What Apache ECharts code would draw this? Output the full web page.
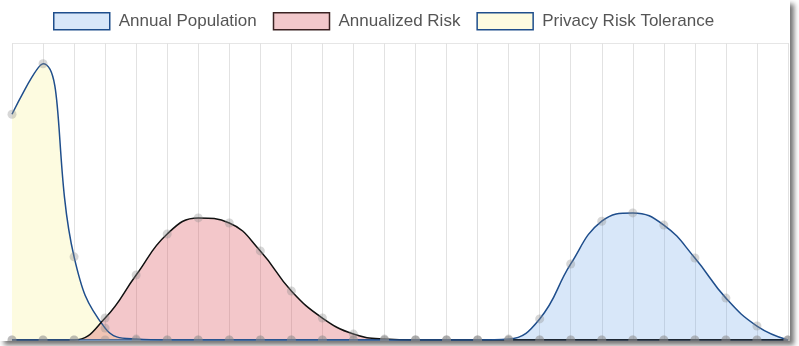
<!DOCTYPE html>
<html>
<head>
<meta charset="utf-8">
<script src="https://cdn.jsdelivr.net/npm/echarts@6/dist/echarts.min.js"></script>
<style>
  body { margin: 0; background: #fff; }
  #wrap { position: absolute; left: 0; top: 0; width: 790px; height: 341px; background: #fff; box-shadow: 4px 4px 5px rgba(0,0,0,0.55); }
  #chart { width: 790px; height: 341px; }
</style>
</head>
<body>
<div id="wrap"><div id="chart"></div></div>
<script>
  // x positions (no labels shown in the picture)
  var categories = ['0','1','2','3','4','5','6','7','8','9','10','11','12',
    '13','14','15','16','17','18','19','20','21','22','23','24','25']
  var seriesNames = ['Annual Population', 'Annualized Risk', 'Privacy Risk Tolerance']
  var annualPopulation = [0,0,0,0,0,0,0,0,0,0,0,0,0,0,0,0,0.003,0.071,0.256,0.40,0.428,0.387,0.276,0.141,0.047,0]
  var annualizedRisk = [0,0,0,0.074,0.219,0.357,0.411,0.394,0.30,0.165,0.074,0.02,0.003,0,0,0,0,0,0,0,0,0,0,0,0,0]
  var privacyRiskTolerance = [0.76,0.93,0.28,0.04,0.003,0,0,0,0,0,0,0,0,0,0,0,0,0,0,0,0,0,0,0,0,0]

  var navy = '#1f4e8c'
  var pointStyle = { color: 'rgba(140,140,140,0.35)', borderWidth: 0 }

  var myChart = echarts.init(document.getElementById('chart'))
  myChart.setOption({
    animation: false,
    legend: {
      top: 7,
      left: 48,
      icon: 'rect',
      itemWidth: 56,
      itemHeight: 17,
      itemGap: 16,
      textStyle: {
        color: '#555',
        fontSize: 17,
        fontFamily: 'Liberation Sans, Arial, sans-serif',
        padding: [0, 0, 0, 4]
      },
      data: [
        { name: seriesNames[0], itemStyle: { color: '#d8e7f9', borderColor: navy, borderWidth: 1.5 } },
        { name: seriesNames[1], itemStyle: { color: '#f2c8cb', borderColor: '#3a2222', borderWidth: 1.5 } },
        { name: seriesNames[2], itemStyle: { color: '#fdfbe0', borderColor: navy, borderWidth: 1.5 } }
      ]
    },
    grid: {
      top: 43,
      bottom: 1,
      left: 12,
      right: 2
    },
    xAxis: {
      type: 'category',
      boundaryGap: false,
      data: categories,
      axisLine: { show: false },
      axisTick: { show: false },
      axisLabel: { show: false },
      splitLine: { show: true, lineStyle: { color: '#e2e2e2', width: 1 } }
    },
    yAxis: {
      type: 'value',
      min: 0,
      max: 1,
      interval: 1,
      axisLine: { show: false },
      axisTick: { show: false },
      axisLabel: { show: false },
      splitLine: { show: true, lineStyle: { color: '#e6e6e6', width: 1 } }
    },
    series: [
      {
        name: seriesNames[2],
        type: 'line',
        data: privacyRiskTolerance,
        smooth: 0.45,
        symbol: 'circle',
        symbolSize: 9,
        showAllSymbol: true,
        itemStyle: pointStyle,
        lineStyle: { color: navy, width: 1.5 },
        areaStyle: { color: '#fdfbe0', opacity: 1 }
      },
      {
        name: seriesNames[1],
        type: 'line',
        data: annualizedRisk,
        smooth: 0.45,
        symbol: 'circle',
        symbolSize: 9,
        showAllSymbol: true,
        itemStyle: pointStyle,
        lineStyle: { color: '#111', width: 1.5 },
        areaStyle: { color: 'rgba(215,70,80,0.3)', opacity: 1 }
      },
      {
        name: seriesNames[0],
        type: 'line',
        data: annualPopulation,
        smooth: 0.45,
        symbol: 'circle',
        symbolSize: 9,
        showAllSymbol: true,
        itemStyle: pointStyle,
        lineStyle: { color: navy, width: 1.5 },
        areaStyle: { color: 'rgba(100,160,230,0.25)', opacity: 1 }
      }
    ]
  })
</script>
</body>
</html>
